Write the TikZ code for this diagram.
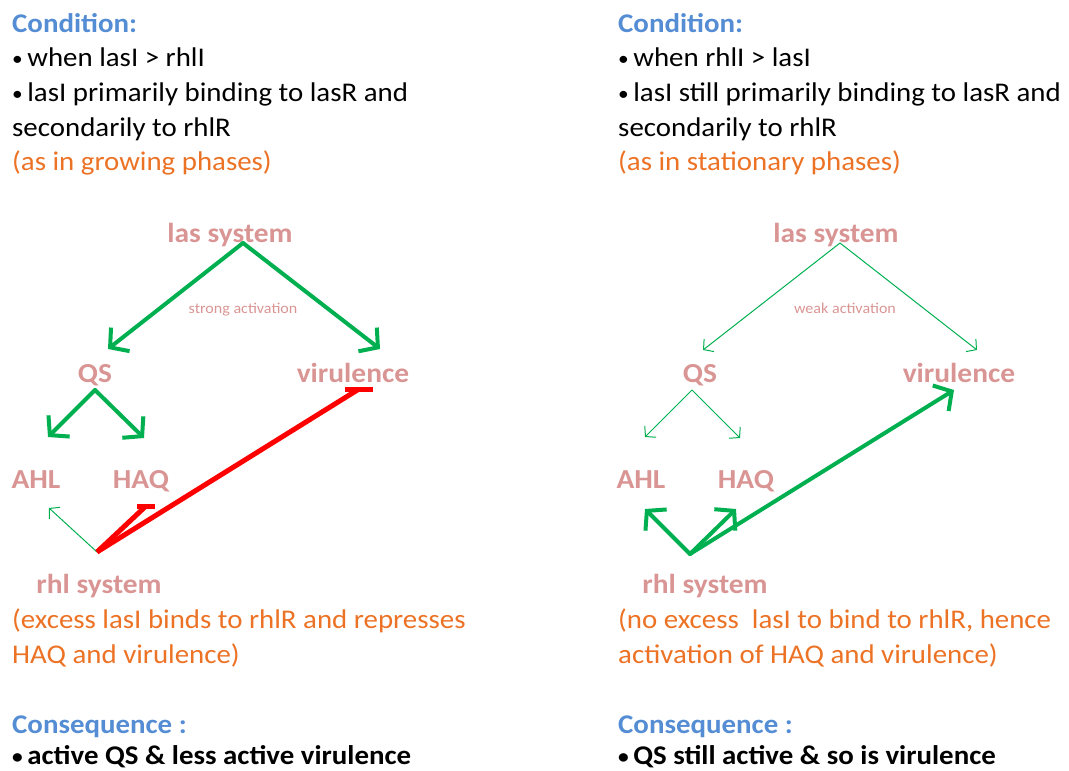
\documentclass[tikz,border=0pt]{standalone}
\usepackage{fontspec}
\setmainfont{Carlito}[FakeStretch=1.07]
\usetikzlibrary{arrows.meta,calc}
\definecolor{pinkT}{HTML}{D99594}
\definecolor{greenA}{HTML}{00B050}
\definecolor{blueH}{HTML}{548DD4}
\definecolor{orangeT}{HTML}{EC7225}
\definecolor{redA}{HTML}{FF0000}
\newcommand{\bul}{{\fontsize{20}{20}\selectfont\raisebox{1pt}{•}}\,}
\tikzset{
  txt/.style={anchor=base west, inner sep=0pt, font=\fontsize{27}{35}\selectfont},
  head/.style={txt, text=blueH, font=\bfseries\fontsize{27}{35}\selectfont},
  note/.style={txt, text=orangeT},
  cons/.style={txt, font=\bfseries\fontsize{27}{35}\selectfont},
  lbl/.style={anchor=base, inner sep=0pt, text=pinkT, font=\bfseries\fontsize{27.5}{30}\selectfont},
  small/.style={anchor=base, inner sep=0pt, text=pinkT, font=\fontsize{15}{16}\selectfont},
  thickarr/.style={draw=greenA, line width=4pt, line cap=round, -{Straight Barb[length=13pt,width=30pt]}},
  thinarr/.style={draw=greenA, line width=1pt, -{Straight Barb[length=7pt,width=16pt]}},
  inhib/.style={draw=redA, line width=5pt},
}
\begin{document}
\begin{tikzpicture}[x=1pt,y=-1pt]
\useasboundingbox (0,0) rectangle (1069,771);
% ---------------- left panel ----------------
\node[head] (lc) at (12,32) {Condition:};
\node[txt] (l1) at (12,66) {\bul when lasI > rhlI};
\node[txt] (l2) at (12,101) {\bul lasI primarily binding to lasR and};
\node[txt] (l3) at (12,136) {secondarily to rhlR};
\node[note] (l4) at (12,170) {(as in growing phases)};

\node[lbl] (lLas) at (230,242) {las system};
\node[small] (lStrong) at (243,313) {strong activation};
\node[lbl] (lQS) at (95,382) {QS};
\node[lbl] (lVir) at (353,382) {virulence};
\node[lbl] (lAHL) at (36,488) {AHL};
\node[lbl] (lHAQ) at (141,488) {HAQ};
\node[lbl] (lRhl) at (99,593) {rhl system};

\coordinate (lLasS) at (243,243);
\coordinate (lQSin) at (108,349);
\coordinate (lVirin) at (380,349);
\coordinate (lQSS) at (95,390);
\coordinate (lAHLin) at (48,437);
\coordinate (lHAQin) at (144,438);
\coordinate (lRhlN) at (97,552);
\coordinate (lAHLlow) at (49,508);
\coordinate (lHAQbar) at (146,506);
\coordinate (lVirbar) at (359,389);

\draw[thickarr] (lLasS) -- (lQSin);
\draw[thickarr] (lLasS) -- (lVirin);
\draw[thickarr] (lQSS) -- (lAHLin);
\draw[thickarr] (lQSS) -- (lHAQin);
\draw[thinarr] (lRhlN) -- (lAHLlow);
\draw[inhib] (lRhlN) -- (lHAQbar);
\draw[inhib] ($(lHAQbar)+(-9,0)$) -- ($(lHAQbar)+(9,0)$);
\draw[inhib] (lRhlN) -- (lVirbar);
\draw[inhib] ($(lVirbar)+(-14,0)$) -- ($(lVirbar)+(14,0)$);

\node[note] (l5) at (12,628) {(excess lasI binds to rhlR and represses};
\node[note] (l6) at (12,663) {HAQ and virulence)};
\node[head] (lq) at (12,733) {Consequence :};
\node[cons] (l7) at (12,764) {\bul active QS \& less active virulence};

% ---------------- right panel ----------------
\node[head] (rc) at (618,32) {Condition:};
\node[txt] (r1) at (618,66) {\bul when rhlI > lasI};
\node[txt] (r2) at (618,101) {\bul lasI still primarily binding to lasR and};
\node[txt] (r3) at (618,136) {secondarily to rhlR};
\node[note] (r4) at (618,170) {(as in stationary phases)};

\node[lbl] (rLas) at (836,242) {las system};
\node[small] (rWeak) at (845,313) {weak activation};
\node[lbl] (rQS) at (700,382) {QS};
\node[lbl] (rVir) at (959,382) {virulence};
\node[lbl] (rAHL) at (641,488) {AHL};
\node[lbl] (rHAQ) at (746,488) {HAQ};
\node[lbl] (rRhl) at (705,593) {rhl system};

\coordinate (rLasS) at (840,243);
\coordinate (rQSin) at (703,350);
\coordinate (rVirin) at (977,350);
\coordinate (rQSS) at (692,390);
\coordinate (rAHLin) at (645,437);
\coordinate (rHAQin) at (740,438);
\coordinate (rRhlN) at (690,554);
\coordinate (rAHLlow) at (645,509);
\coordinate (rHAQlow) at (736,509);
\coordinate (rVirlow) at (954,390);

\draw[thinarr] (rLasS) -- (rQSin);
\draw[thinarr] (rLasS) -- (rVirin);
\draw[thinarr] (rQSS) -- (rAHLin);
\draw[thinarr] (rQSS) -- (rHAQin);
\draw[thickarr] (rRhlN) -- (rAHLlow);
\draw[thickarr] (rRhlN) -- (rHAQlow);
\draw[thickarr] (rRhlN) -- (rVirlow);

\node[note] (r5) at (618,628) {(no excess \ lasI to bind to rhlR, hence};
\node[note] (r6) at (618,663) {activation of HAQ and virulence)};
\node[head] (rq) at (618,733) {Consequence :};
\node[cons] (r7) at (618,764) {\bul QS still active \& so is virulence};
\end{tikzpicture}
\end{document}
